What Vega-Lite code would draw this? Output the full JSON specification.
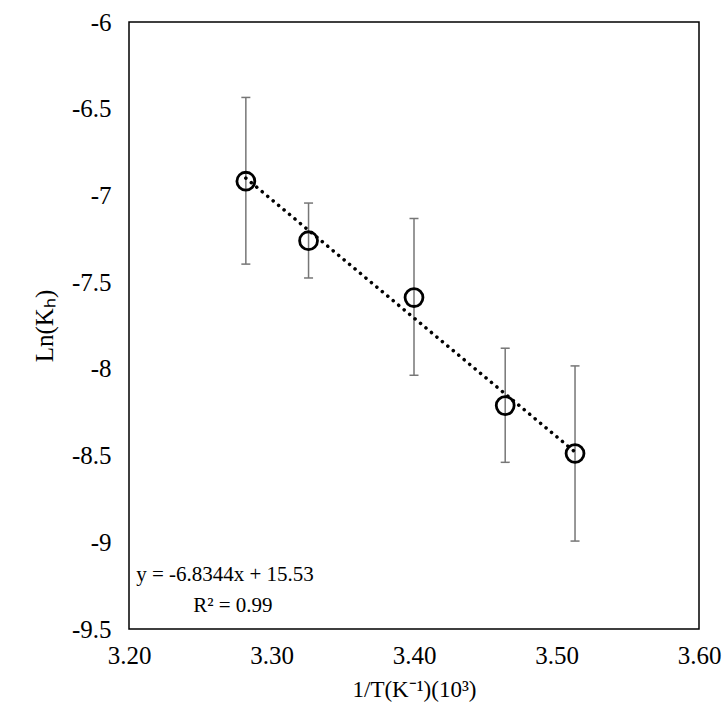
{
  "$schema": "https://vega.github.io/schema/vega-lite/v6.json",
  "width": 570,
  "height": 607,
  "autosize": "none",
  "padding": {"left": 129, "top": 22, "right": 28, "bottom": 77},
  "background": "white",
  "config": {
    "view": {"stroke": "black", "strokeWidth": 1.5},
    "axisX": {"labelFont": "Liberation Serif, Times New Roman, serif", "labelFontSize": 25},
    "axisY": {"labelFont": "Liberation Serif, Times New Roman, serif", "labelFontSize": 25},
    "axis": {"grid": false, "ticks": false, "domain": false, "labelFlush": false, "labelColor": "black", "titleColor": "black", "titleFontWeight": "normal"}
  },
  "datasets": {
    "pts": [
      {"x": 3.282, "y": -6.918, "lo": -7.396, "hi": -6.435},
      {"x": 3.326, "y": -7.261, "lo": -7.476, "hi": -7.044},
      {"x": 3.400, "y": -7.589, "lo": -8.037, "hi": -7.133},
      {"x": 3.464, "y": -8.212, "lo": -8.539, "hi": -7.881},
      {"x": 3.513, "y": -8.488, "lo": -8.993, "hi": -7.983}
    ],
    "trend": [{"x": 3.282, "y": -6.900}, {"x": 3.513, "y": -8.479}],
    "labels": [
      {"x": 3.205, "y": -9.19, "t": "y = -6.8344x + 15.53"},
      {"x": 3.245, "y": -9.37, "t": "R² = 0.99"}
    ]
  },
  "encoding": {
    "x": {"field": "x", "type": "quantitative", "scale": {"domain": [3.2, 3.6]}, "axis": {"values": [3.2, 3.3, 3.4, 3.5, 3.6], "format": ".2f", "title": "1/T(K⁻¹)(10³)", "labelFont": "Liberation Serif, Times New Roman, serif", "titleFont": "Liberation Serif", "labelFontSize": 25, "titleFontSize": 23, "labelPadding": 14, "titlePadding": 10}},
    "y": {"type": "quantitative", "scale": {"domain": [-9.5, -6]}, "axis": {"values": [-9.5, -9, -8.5, -8, -7.5, -7, -6.5, -6], "labelExpr": "toString(datum.value)", "title": "Ln(Kₕ)", "labelFont": "Liberation Serif, Times New Roman, serif", "titleFont": "Liberation Serif", "labelFontSize": 25, "titleFontSize": 25, "labelPadding": 18, "titlePadding": 14}}
  },
  "layer": [
    {
      "data": {"name": "pts"},
      "mark": {"type": "rule", "color": "#767676", "strokeWidth": 1.5},
      "encoding": {"y": {"field": "lo", "type": "quantitative"}, "y2": {"field": "hi"}}
    },
    {
      "data": {"name": "pts"},
      "mark": {"type": "tick", "color": "#767676", "orient": "horizontal", "size": 9, "thickness": 1.5, "opacity": 1},
      "encoding": {"y": {"field": "lo", "type": "quantitative"}}
    },
    {
      "data": {"name": "pts"},
      "mark": {"type": "tick", "color": "#767676", "orient": "horizontal", "size": 9, "thickness": 1.5, "opacity": 1},
      "encoding": {"y": {"field": "hi", "type": "quantitative"}}
    },
    {
      "data": {"name": "trend"},
      "mark": {"type": "line", "color": "black", "strokeWidth": 3.5, "strokeDash": [0.1, 7], "strokeCap": "round"},
      "encoding": {"y": {"field": "y", "type": "quantitative"}}
    },
    {
      "data": {"name": "pts"},
      "mark": {"type": "point", "shape": "circle", "filled": false, "color": "black", "opacity": 1, "strokeWidth": 2.8, "size": 320},
      "encoding": {"y": {"field": "y", "type": "quantitative"}}
    },
    {
      "data": {"name": "labels"},
      "mark": {"type": "text", "align": "left", "fontSize": 21, "font": "Liberation Serif", "color": "black"},
      "encoding": {"y": {"field": "y", "type": "quantitative"}, "text": {"field": "t"}}
    }
  ]
}
